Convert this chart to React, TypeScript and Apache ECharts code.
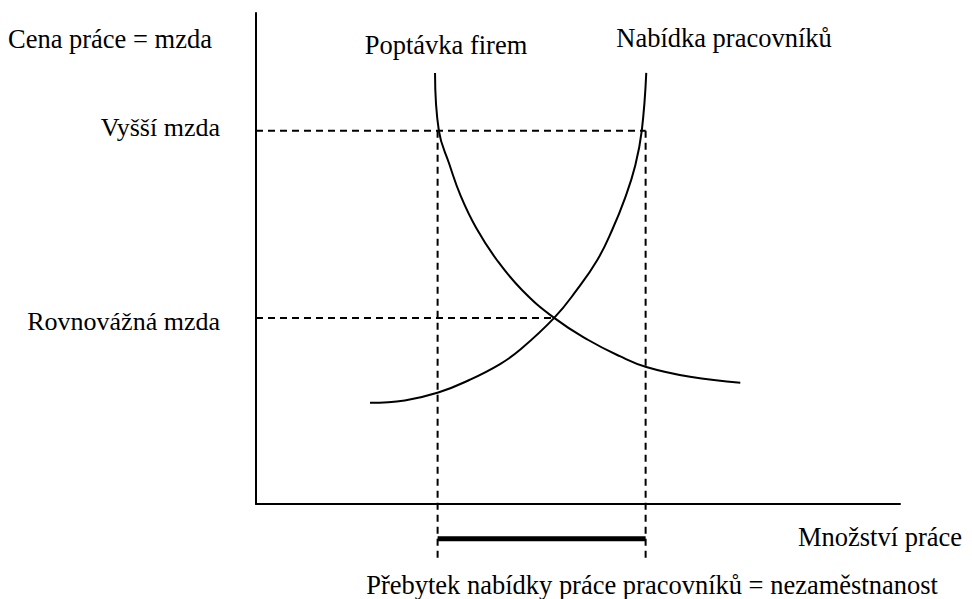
import React, { useEffect, useRef } from "react";
import * as echarts from "echarts";

// Wage levels marked on the vertical axis (0–100 scale)
const wageLevels = [37.9, 76.0];
const wageLabels = ["Rovnovážná mzda", "Vyšší mzda"];

// Labour demand of firms (quantity, wage)
const demandQ = [27.8, 28.4, 30.0, 31.8, 34.2, 37.4, 41.3, 46.3, 51.6, 56.5, 60.6, 67.4, 75.2];
const demandW = [87.8, 76.0, 69.3, 62.7, 56.2, 49.7, 43.6, 37.9, 33.4, 30.1, 27.9, 25.9, 24.7];

// Labour supply of workers (quantity, wage)
const supplyQ = [17.7, 23.1, 28.3, 33.2, 37.9, 41.0, 46.3, 49.7, 53.0, 55.3, 57.3, 58.9, 59.9, 60.6];
const supplyW = [20.6, 21.1, 22.7, 25.3, 28.5, 31.4, 37.9, 43.4, 49.7, 55.8, 62.3, 69.0, 76.0, 87.8];

// Key quantities
const highWage = 76.0;
const eqWage = 37.9;
const eqQuantity = 46.3;
const demandAtHighWage = 28.2;
const supplyAtHighWage = 60.5;
const dropLineBottom = -11.2;
const surplusLevel = -7.1;

// Texts
const yAxisTitle = "Cena práce = mzda";
const xAxisTitle = "Množství práce";
const demandTitle = "Poptávka firem";
const supplyTitle = "Nabídka pracovníků";
const surplusTitle = "Přebytek nabídky práce pracovníků = nezaměstnanost";

const FONT = "Liberation Serif";
const FS = 26;
const TEXT_SCALE = 26.5 / 26;

export default function App() {
  const ref = useRef<HTMLDivElement>(null);

  useEffect(() => {
    if (!ref.current) return;
    const chart = echarts.init(ref.current, undefined, { renderer: "svg" });

    const dashed = { color: "#000", width: 2, type: [7, 5] as any };
    const mk = (data: number[][], lineStyle: any, z = 2) => ({
      type: "line",
      data,
      showSymbol: false,
      symbol: "none",
      clip: false,
      silent: true,
      z,
      lineStyle,
    });

    const textStyle = (x: number, y: number, text: string, align: string) => ({
      type: "text",
      x,
      y,
      scaleX: TEXT_SCALE,
      scaleY: TEXT_SCALE,
      silent: true,
      style: {
        text,
        fill: "#000",
        fontSize: FS,
        fontFamily: FONT,
        align,
        verticalAlign: "middle",
      },
    });

    const richBase = { fontSize: FS, fontFamily: FONT, color: "#000" };

    chart.setOption({
      animation: false,
      backgroundColor: "#fff",
      grid: { left: 256, top: 13, right: 72, bottom: 95, containLabel: false, outerBoundsMode: "none" },
      xAxis: {
        type: "value",
        min: 0,
        max: 100,
        axisLine: { show: true, onZero: true, lineStyle: { color: "#000", width: 2 } },
        axisTick: { show: false },
        axisLabel: { show: false },
        splitLine: { show: false },
      },
      yAxis: {
        type: "value",
        min: 0,
        max: 100,
        axisLine: { show: true, onZero: false, lineStyle: { color: "#000", width: 2 } },
        axisTick: { show: false },
        splitLine: { show: false },
        axisLabel: {
          show: true,
          customValues: wageLevels,
          margin: 36,
          color: "#000",
          fontSize: FS,
          fontFamily: FONT,
          formatter: (v: number) => {
            const i = wageLevels.findIndex((w) => Math.abs(w - v) < 1e-6);
            if (i < 0) return "";
            return i === 0 ? `{low|${wageLabels[i]}}` : `{high|${wageLabels[i]}}`;
          },
          rich: {
            low: { ...richBase, padding: [8, 0, 0, 0] },
            high: { ...richBase, padding: [0, 0, 6, 0] },
          },
        },
      },
      series: [
        mk([[0, highWage], [supplyAtHighWage, highWage]], dashed),
        mk([[0, eqWage], [eqQuantity, eqWage]], dashed),
        mk([[demandAtHighWage, highWage], [demandAtHighWage, dropLineBottom]], dashed),
        mk([[supplyAtHighWage, highWage], [supplyAtHighWage, dropLineBottom]], dashed),
        mk([[demandAtHighWage, surplusLevel], [supplyAtHighWage, surplusLevel]], { color: "#000", width: 5, cap: "butt" }, 3),
        {
          ...mk(demandQ.map((q, i) => [q, demandW[i]]), { color: "#000", width: 2 }, 4),
          smooth: 0.45,
        },
        {
          ...mk(supplyQ.map((q, i) => [q, supplyW[i]]), { color: "#000", width: 2 }, 4),
          smooth: 0.45,
        },
      ],
      graphic: [
        textStyle(8, 38.5, yAxisTitle, "left"),
        textStyle(446, 44.5, demandTitle, "center"),
        textStyle(724, 38, supplyTitle, "center"),
        textStyle(798, 536.5, xAxisTitle, "left"),
        textStyle(652, 585, surplusTitle, "center"),
      ],
    });

    return () => chart.dispose();
  }, []);

  return (
    <div
      ref={ref}
      style={{ position: "absolute", left: 0, top: 0, width: 972, height: 599 }}
    />
  );
}
